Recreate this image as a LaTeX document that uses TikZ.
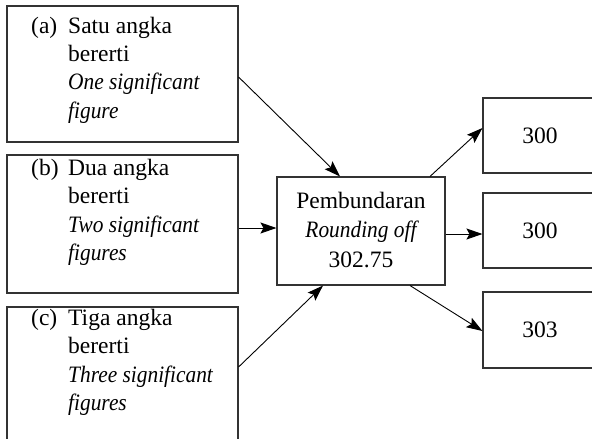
\documentclass[tikz,border=0pt]{standalone}
\usepackage{fontspec}
\setmainfont{Liberation Serif}
\newfontfamily\itfam{Liberation Serif}[FakeStretch=0.91]
\usetikzlibrary{arrows.meta,calc}
\newcommand{\myit}[1]{{\itfam\itshape #1}}
\tikzset{
  box/.style={draw=black!80, line width=1.1pt, rectangle, inner sep=0pt},
  txt/.style={inner sep=0pt, anchor=base west, font=\fontsize{23.5}{28.5}\selectfont},
  arr/.style={line width=0.9pt, -{Stealth[length=16pt,width=11pt,inset=3pt]}},
}
\begin{document}
\begin{tikzpicture}[x=1pt,y=-1pt]
\useasboundingbox (0,0) rectangle (592,439);
\node[box, minimum width=231pt, minimum height=136pt] (a) at (122.5,74) {};
\node[box, minimum width=231pt, minimum height=138pt] (b) at (122.5,224) {};
\node[box, minimum width=231pt, minimum height=143pt] (c) at (122.5,378.5) {};
\node[box, minimum width=168pt, minimum height=108pt] (m) at (361,231) {};
\node[box, minimum width=114pt, minimum height=75pt, font=\fontsize{23.5}{28.5}\selectfont] (r1) at (540,135.5) {300};
\node[box, minimum width=114pt, minimum height=75pt, font=\fontsize{23.5}{28.5}\selectfont] (r2) at (540,230.5) {300};
\node[box, minimum width=114pt, minimum height=76pt, font=\fontsize{23.5}{28.5}\selectfont] (r3) at (540,330) {303};
\node[txt] (ta) at (31,33) {\begin{tabular}[t]{@{}p{37pt}@{}l@{}}(a) & Satu angka\\ & bererti\\ & \myit{One significant}\\ & \myit{figure}\end{tabular}};
\node[txt] (tb) at (31,175) {\begin{tabular}[t]{@{}p{37pt}@{}l@{}}(b) & Dua angka\\ & bererti\\ & \myit{Two significant}\\ & \myit{figures}\end{tabular}};
\node[txt] (tc) at (31,325) {\begin{tabular}[t]{@{}p{37pt}@{}l@{}}(c) & Tiga angka\\ & bererti\\ & \myit{Three significant}\\ & \myit{figures}\end{tabular}};
\node[txt, anchor=base, font=\fontsize{23.5}{29.5}\selectfont] (tm) at (361,208) {\begin{tabular}[t]{@{}c@{}}Pembundaran\\ \myit{Rounding off}\\ 302.75\end{tabular}};
\draw[arr] ($(a.east)+(0,3)$) -- ($(m.north)+(-21,0)$);
\draw[arr] ($(b.east)+(0,4)$) -- ($(m.west)+(0,-3)$);
\draw[arr] ($(c.east)+(0,-11.5)$) -- ($(m.south)+(-38,0)$);
\draw[arr] ($(m.north)+(69,0)$) -- ($(r1.west)+(0,-7.5)$);
\draw[arr] ($(m.east)+(0,3)$) -- ($(r2.west)+(0,3.5)$);
\draw[arr] ($(m.south)+(49,0)$) -- ($(r3.west)+(0,1)$);
\end{tikzpicture}
\end{document}
